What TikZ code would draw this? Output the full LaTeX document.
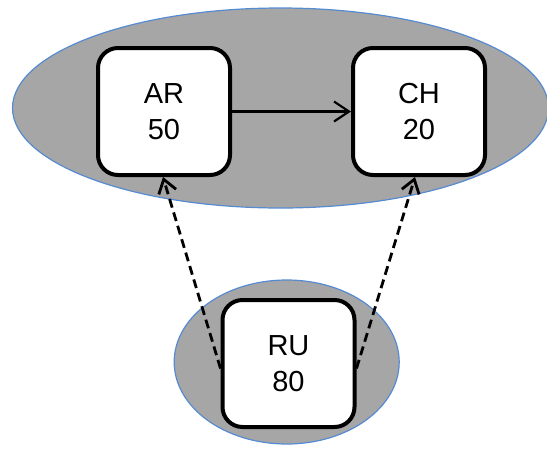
\documentclass[tikz,border=0pt]{standalone}
\usepackage{fontspec}
\setmainfont{Liberation Sans}
\usetikzlibrary{arrows.meta}
\definecolor{grp}{RGB}{166,166,166}
\definecolor{edgeblue}{RGB}{86,139,210}
\tikzset{
  stbox/.style={draw=black, fill=white, line width=4pt, rounded corners=20pt,
    minimum width=132pt, minimum height=127pt, inner sep=0pt, align=center,
    font=\fontsize{29}{36.6}\selectfont},
  solidarrow/.style={line width=2.2pt, -{Straight Barb[length=15pt,width=20pt]}},
  dasharrow/.style={line width=2.8pt, dash pattern=on 9pt off 5pt,
    -{Straight Barb[length=13pt,width=18pt]}}
}
\begin{document}
\begin{tikzpicture}[x=1pt,y=-1pt]
\useasboundingbox (0,0) rectangle (547,448);
\fill[grp, draw=edgeblue, line width=1.2pt] (280.5,108) ellipse [x radius=268, y radius=100];
\fill[grp, draw=edgeblue, line width=1.2pt] (286.7,362) ellipse [x radius=112.5, y radius=82];
\node[stbox] (ar) at (164,111.5) {AR\\50};
\node[stbox] (ch) at (419,111.5) {CH\\20};
\node[stbox] (ru) at (288.5,363.5) {RU\\80};
\draw[solidarrow] (ar.east) -- (ch.west);
\draw[dasharrow] ([yshift=-5pt]ru.west) -- ([xshift=-1pt]ar.south);
\draw[dasharrow] ([yshift=-5pt]ru.east) -- ([xshift=-4pt]ch.south);
\end{tikzpicture}
\end{document}
